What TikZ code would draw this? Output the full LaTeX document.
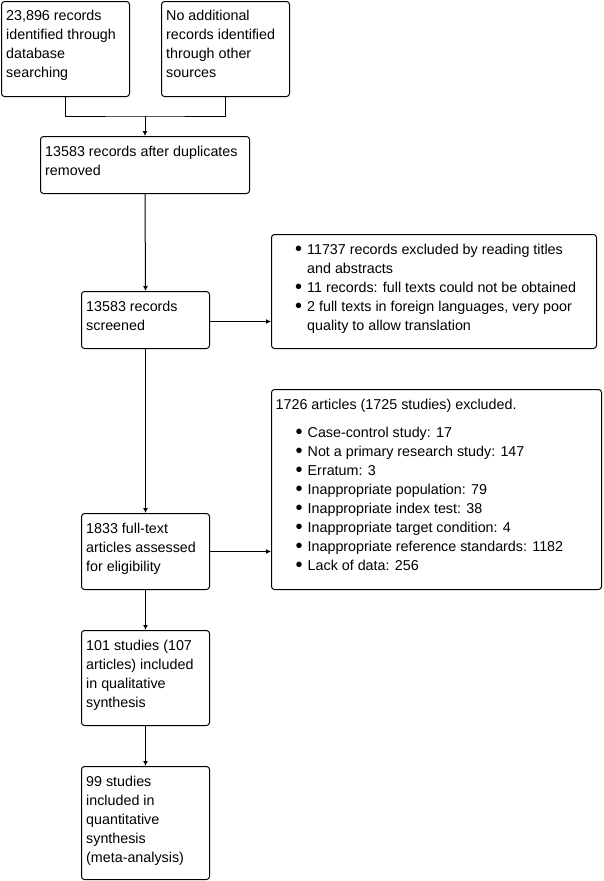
\documentclass[tikz,border=0pt]{standalone}
\usepackage{fontspec}
\setmainfont{Liberation Sans}
\usetikzlibrary{arrows.meta,calc}
\tikzset{
  box/.style={draw, line width=1pt, rounded corners=3pt, inner sep=0pt, anchor=north west},
  txt/.style={anchor=north west, inner sep=0pt, align=left, font=\fontsize{14.3}{19}\selectfont},
  arr/.style={line width=1pt, -{Latex[length=5pt,width=5pt]}},
  ln/.style={line width=1pt}
}
\newcommand\mybul{\makebox[12pt][l]{\raisebox{-1.3pt}{\scalebox{1.4}{\textbullet}}}}
\newcommand\myind{\hspace*{12pt}}
\begin{document}
\begin{tikzpicture}[x=1pt,y=-1pt]
\useasboundingbox (0,0) rectangle (603,881);
% boxes
\node[box, minimum width=128pt, minimum height=95pt] (A) at (1,1) {};
\node[box, minimum width=128pt, minimum height=95pt] (B) at (161,1) {};
\node[box, minimum width=209pt, minimum height=57pt] (C) at (40,136) {};
\node[box, minimum width=128pt, minimum height=57pt] (D) at (81,291) {};
\node[box, minimum width=325pt, minimum height=114pt] (E) at (271,234) {};
\node[box, minimum width=330pt, minimum height=200pt] (F) at (271,389) {};
\node[box, minimum width=128pt, minimum height=76pt] (G) at (81,513) {};
\node[box, minimum width=128pt, minimum height=95pt] (H) at (81,630) {};
\node[box, minimum width=128pt, minimum height=113pt] (I) at (81,766) {};
% texts
\node[txt] (tA) at (6,10) {23,896 records\\identified through\\database\\searching};
\node[txt] (tB) at (166,10) {No additional\\records identified\\through other\\sources};
\node[txt] (tC) at (45,145.5) {13583 records after duplicates\\removed};
\node[txt] (tD) at (86,300.5) {13583 records\\screened};
\node[txt] (tE) at (295,243.5) {\mybul 11737 records excluded by reading titles\\\myind and abstracts\\\mybul 11 records: full texts could not be obtained\\\mybul 2 full texts in foreign languages, very poor\\\myind quality to allow translation};
\node[txt] (tF) at (275.5,398.5) {1726 articles (1725 studies) excluded.\\[9pt]
\hspace*{20pt}\mybul Case-control study: 17\\
\hspace*{20pt}\mybul Not a primary research study: 147\\
\hspace*{20pt}\mybul Erratum: 3\\
\hspace*{20pt}\mybul Inappropriate population: 79\\
\hspace*{20pt}\mybul Inappropriate index test: 38\\
\hspace*{20pt}\mybul Inappropriate target condition: 4\\
\hspace*{20pt}\mybul Inappropriate reference standards: 1182\\
\hspace*{20pt}\mybul Lack of data: 256};
\node[txt] (tG) at (86,522.5) {1833 full-text\\articles assessed\\for eligibility};
\node[txt] (tH) at (86,639.5) {101 studies (107\\articles) included\\in qualitative\\synthesis};
\node[txt] (tI) at (86,775.5) {99 studies\\included in\\quantitative\\synthesis\\(meta-analysis)};
% connectors
\coordinate (j) at (145,116);
\draw[ln] (A.south) |- (j) -| (B.south);
\draw[arr] (j) -- (j |- C.north);
\draw[arr] (C.south -| j) -- (D.north);
\draw[arr] ($(D.east)+(0,1.5)$) -- ($(D.east -| E.west)+(0,1.5)$);
\draw[arr] (D.south) -- (G.north);
\draw[arr] (G.east) -- (G.east -| F.west);
\draw[arr] (G.south) -- (H.north);
\draw[arr] (H.south) -- (I.north);
\end{tikzpicture}
\end{document}
